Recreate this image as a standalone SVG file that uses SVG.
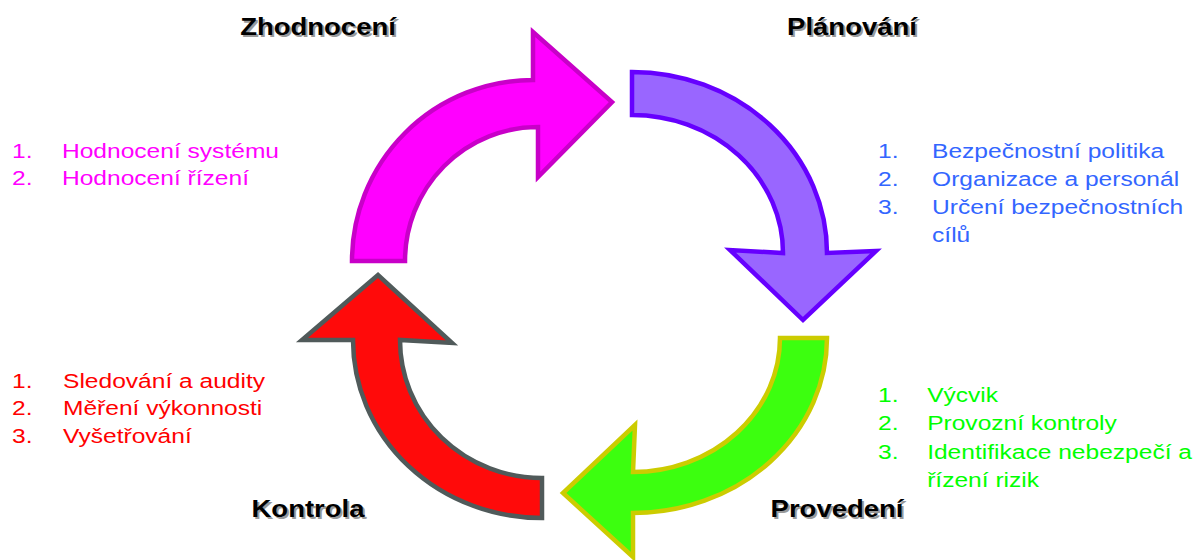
<svg xmlns="http://www.w3.org/2000/svg" width="1201" height="560" viewBox="0 0 1201 560">
<style>
.title{font-family:"Liberation Sans",Arial,sans-serif;font-weight:bold;font-size:23.5px;text-anchor:middle;fill:#000}
.shadow{fill:#9a9a9a}
.li{font-family:"Liberation Sans",Arial,sans-serif;font-size:21px}
.arrow{stroke-width:4.5;stroke-linejoin:miter}
</style>
<rect width="1201" height="560" fill="#fff"/>
<g id="connectors">
  <path id="arrow-zhodnoceni" class="arrow" fill="#FF00FF" stroke="#C800C8" d="M 352,261 A 181,181 0 0 1 533,80 L 533,32 L 612,102 L 538,177 L 538,127 A 133,134 0 0 0 405,261 Z"/>
  <path id="arrow-planovani" class="arrow" fill="#9966FF" stroke="#6600FF" d="M 632,72 A 195,181 0 0 1 827,253 L 876,251 L 803,320 L 730,250 L 783,253 A 151,138 0 0 0 632,115 Z"/>
  <path id="arrow-provedeni" class="arrow" fill="#3CFF0F" stroke="#CCCC00" d="M 827,338 A 194,175 0 0 1 633,513 L 633,557 L 563,493 L 635,425 L 633,472 A 147,134 0 0 0 780,338 Z"/>
  <path id="arrow-kontrola" class="arrow" fill="#FF0A0A" stroke="#505A5A" d="M 542,518 A 189,178 0 0 1 353,340 L 302,340 L 378,275 L 452,343 L 400,340 A 142,138 0 0 0 542,478 Z"/>
</g>
<g id="node-zhodnoceni">
  <text class="title shadow" transform="translate(320,37) scale(1.17,1)">Zhodnocení</text>
  <text class="title" transform="translate(318,35) scale(1.17,1)">Zhodnocení</text>
  <g class="li" fill="#FF00FF" transform="translate(12,158) scale(1.17,1)">
    <text x="0" y="0">1.</text><text x="42.7" y="0">Hodnocení systému</text>
    <text x="0" y="27.5">2.</text><text x="42.7" y="27.5">Hodnocení řízení</text>
  </g>
</g>
<g id="node-planovani">
  <text class="title shadow" transform="translate(854,37) scale(1.17,1)">Plánování</text>
  <text class="title" transform="translate(852,35) scale(1.17,1)">Plánování</text>
  <g class="li" fill="#3366FF" transform="translate(878,158) scale(1.17,1)">
    <text x="0" y="0">1.</text><text x="46.2" y="0">Bezpečnostní politika</text>
    <text x="0" y="28">2.</text><text x="46.2" y="28">Organizace a personál</text>
    <text x="0" y="56">3.</text><text x="46.2" y="56">Určení bezpečnostních</text>
    <text x="46.2" y="84">cílů</text>
  </g>
</g>
<g id="node-provedeni">
  <text class="title shadow" transform="translate(839,519) scale(1.17,1)">Provedení</text>
  <text class="title" transform="translate(837,517) scale(1.17,1)">Provedení</text>
  <g class="li" fill="#00FF00" transform="translate(878,402) scale(1.17,1)">
    <text x="0" y="0">1.</text><text x="42" y="0">Výcvik</text>
    <text x="0" y="28.5">2.</text><text x="42" y="28.5">Provozní kontroly</text>
    <text x="0" y="57">3.</text><text x="42" y="57">Identifikace nebezpečí a</text>
    <text x="42" y="85.5">řízení rizik</text>
  </g>
</g>
<g id="node-kontrola">
  <text class="title shadow" transform="translate(310,519) scale(1.17,1)">Kontrola</text>
  <text class="title" transform="translate(308,517) scale(1.17,1)">Kontrola</text>
  <g class="li" fill="#FF0000" transform="translate(12,388) scale(1.17,1)">
    <text x="0" y="0">1.</text><text x="43.6" y="0">Sledování a audity</text>
    <text x="0" y="27.5">2.</text><text x="43.6" y="27.5">Měření výkonnosti</text>
    <text x="0" y="55">3.</text><text x="43.6" y="55">Vyšetřování</text>
  </g>
</g>
</svg>
